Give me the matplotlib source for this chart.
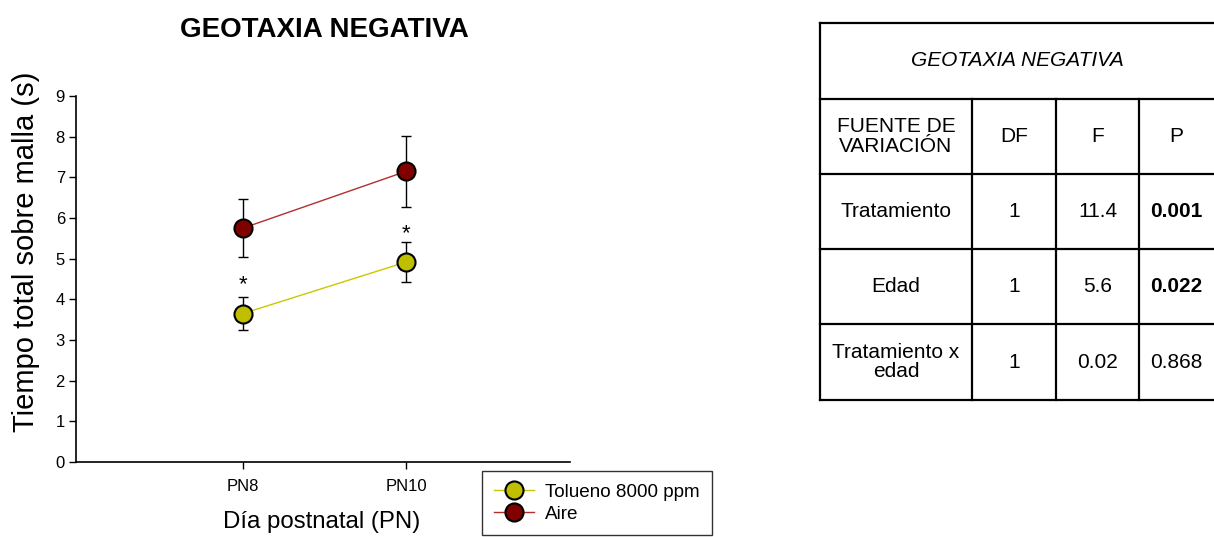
import matplotlib
matplotlib.use("Agg")
import matplotlib.pyplot as plt

plt.rcParams['font.family'] = ['Liberation Sans', 'DejaVu Sans']

# ---- data ----
days = ["PN8", "PN10"]
tolueno_mean = [3.65, 4.92]
tolueno_err = [0.40, 0.50]
aire_mean = [5.75, 7.15]
aire_err = [0.72, 0.87]
asterisk_y = [4.35, 5.62]

table_title = "GEOTAXIA NEGATIVA"
table_header = ["FUENTE DE\nVARIACIÓN", "DF", "F", "P"]
table_rows = [
    ["Tratamiento", "1", "11.4", "0.001"],
    ["Edad", "1", "5.6", "0.022"],
    ["Tratamiento x\nedad", "1", "0.02", "0.868"],
]
p_bold = [True, True, False]

W, H = 1214, 537
fig = plt.figure(figsize=(W / 100, H / 100), dpi=100)

# ---- chart ----
ax = fig.add_axes([76 / W, 1 - 462 / H, (570 - 76) / W, (462 - 96) / H])
x = list(range(len(days)))
ax.errorbar(x, tolueno_mean, yerr=tolueno_err, fmt='none', ecolor='black',
            elinewidth=1, capsize=3.5, capthick=1, zorder=2)
ax.errorbar(x, aire_mean, yerr=aire_err, fmt='none', ecolor='black',
            elinewidth=1, capsize=3.5, capthick=1, zorder=2)
ax.plot(x, tolueno_mean, '-', color='#C8C800', lw=1, marker='o', ms=13,
        mfc='#BFBF00', mec='black', mew=1.5, label='Tolueno 8000 ppm', zorder=3)
ax.plot(x, aire_mean, '-', color='#B03030', lw=1, marker='o', ms=13,
        mfc='#800000', mec='black', mew=1.5, label='Aire', zorder=3)
for xi, yi in zip(x, asterisk_y):
    ax.text(xi, yi, "*", ha='center', va='center', fontsize=16)

ax.set_xlim(-1.02, 2.0)
ax.set_ylim(0, 9)
ax.set_yticks(range(0, 10))
ax.set_xticks(x)
ax.set_xticklabels(days)
ax.tick_params(axis='both', labelsize=12, direction='out', length=5, width=1)
ax.tick_params(axis='x', pad=7)
ax.tick_params(axis='y', pad=3)
for s in ['top', 'right']:
    ax.spines[s].set_visible(False)
for s in ['left', 'bottom']:
    ax.spines[s].set_linewidth(1.2)
fig.text(26 / W, 1 - 252 / H, "Tiempo total sobre malla (s)", fontsize=21,
         rotation=90, ha='center', va='center')
fig.text(322 / W, 1 - 522 / H, "Día postnatal (PN)", fontsize=17.3,
         ha='center', va='center')
fig.text(324 / W, 1 - 30 / H, "GEOTAXIA NEGATIVA", fontsize=20, fontweight='bold',
         ha='center', va='center')

leg = fig.legend(loc='lower left', bbox_to_anchor=(482 / W, 1 - 535 / H),
                 fontsize=13.6, frameon=True, fancybox=False, edgecolor='black',
                 borderpad=0.65, handlelength=2.1, labelspacing=0.25,
                 handletextpad=0.6, borderaxespad=0)
leg.get_frame().set_linewidth(1)
for h in leg.legend_handles:
    h.set_markersize(13)

# ---- table ----
tx0, tx1 = 820, 1214
col_x = [820, 972, 1056, 1139, 1214]
row_y = [23, 99, 174, 249, 324, 400]
tab = fig.add_axes([0, 0, 1, 1])
tab.set_xlim(0, W)
tab.set_ylim(H, 0)
tab.axis('off')
lw = 1.6
for yv in row_y:
    tab.plot([tx0, tx1], [yv, yv], color='black', lw=lw, solid_capstyle='projecting')
tab.plot([tx0, tx0], [row_y[0], row_y[-1]], color='black', lw=lw)
for cx in col_x[1:-1]:
    tab.plot([cx, cx], [row_y[1], row_y[-1]], color='black', lw=lw)
tab.text((tx0 + tx1) / 2, (row_y[0] + row_y[1]) / 2, table_title, fontsize=15,
         style='italic', ha='center', va='center')
all_rows = [table_header] + table_rows
for r, row in enumerate(all_rows):
    yc = (row_y[r + 1] + row_y[r + 2]) / 2
    for c, txt in enumerate(row):
        xc = (col_x[c] + col_x[c + 1]) / 2
        bold = (r > 0 and c == 3 and p_bold[r - 1])
        tab.text(xc, yc, txt, fontsize=15, ha='center', va='center',
                 fontweight='bold' if bold else 'normal', linespacing=1.05)

fig.savefig("out.png", dpi=100)
